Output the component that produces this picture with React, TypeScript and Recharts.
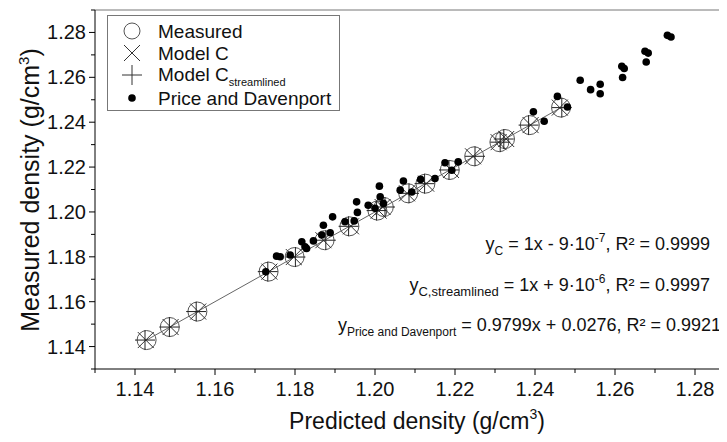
import React from "react"
import {
  ScatterChart,
  Scatter,
  XAxis,
  YAxis,
  ReferenceLine,
} from "recharts"

// measured densities (circles sit on y = x)
const measured = [
  1.1429, 1.1487, 1.1556, 1.1734, 1.1799, 1.1874, 1.1936, 1.2006, 1.2022, 1.2083,
  1.2126, 1.2187, 1.2248, 1.2311, 1.2325, 1.2387, 1.2465,
]
// predictions for the same compounds
const modelC = [
  1.1427, 1.1489, 1.1558, 1.1736, 1.1797, 1.1871, 1.194, 1.2009, 1.2019, 1.208,
  1.2128, 1.219, 1.2245, 1.2309, 1.2328, 1.2389, 1.2462,
]
const modelCStreamlined = [
  1.1425, 1.1486, 1.1553, 1.1732, 1.1801, 1.1877, 1.1934, 1.2004, 1.2025, 1.2085,
  1.2124, 1.2185, 1.225, 1.2313, 1.2322, 1.2384, 1.2467,
]

// Price and Davenport data set
const pdPredicted = [
  1.1727, 1.1754, 1.1763, 1.1788, 1.1817, 1.1825, 1.1829, 1.1846, 1.1867, 1.1871,
  1.1888, 1.1894, 1.1925, 1.1948, 1.1954, 1.1956, 1.1983, 1.2, 1.2011, 1.2013,
  1.2021, 1.2063, 1.2071, 1.2092, 1.2114, 1.215, 1.2175, 1.2192, 1.2208, 1.2396,
  1.2423, 1.2456, 1.2481, 1.2513, 1.2539, 1.2563, 1.2563, 1.2617, 1.2619, 1.2623,
  1.2675, 1.2678, 1.2683, 1.2731, 1.274,
]
const pdMeasured = [
  1.1733, 1.1803, 1.18, 1.1808, 1.1867, 1.1845, 1.1837, 1.1871, 1.1897, 1.1941,
  1.1907, 1.1978, 1.1956, 1.196, 1.2045, 1.1998, 1.203, 1.2016, 1.2115, 1.2067,
  1.2038, 1.2097, 1.2138, 1.2089, 1.2145, 1.2149, 1.2219, 1.2186, 1.2223, 1.2446,
  1.2404, 1.2515, 1.2468, 1.2587, 1.2545, 1.2569, 1.2527, 1.2649, 1.2599, 1.2639,
  1.2716, 1.2668, 1.2708, 1.2787, 1.278,
]

const axisTicks = [
  1.13, 1.14, 1.15, 1.16, 1.17, 1.18, 1.19, 1.2, 1.21, 1.22, 1.23, 1.24, 1.25, 1.26,
  1.27, 1.28, 1.29,
]

const measuredData = measured.map((m) => ({ x: m, y: m }))
const modelCData = modelC.map((p, i) => ({ x: p, y: measured[i] }))
const modelCSData = modelCStreamlined.map((p, i) => ({ x: p, y: measured[i] }))
const pdData = pdPredicted.map((p, i) => ({ x: p, y: pdMeasured[i] }))

const FONT = "'Liberation Sans', Arial, sans-serif"
const PLOT_LEFT = 95
const PLOT_BOTTOM = 369

const isMajor = (v: number) => Math.round(v * 100) % 2 === 0

const XTick = (props: any) => {
  const { x, payload } = props
  const major = isMajor(payload.value)
  return (
    <g>
      <line x1={x} x2={x} y1={PLOT_BOTTOM} y2={PLOT_BOTTOM + (major ? 6 : 4)} stroke="#000" />
      {major && (
        <text x={x} y={PLOT_BOTTOM + 27} textAnchor="middle" fontSize={20} fontFamily={FONT} fill="#111">
          {payload.value.toFixed(2)}
        </text>
      )}
    </g>
  )
}

const YTick = (props: any) => {
  const { y, payload } = props
  const major = isMajor(payload.value)
  return (
    <g>
      <line x1={PLOT_LEFT} x2={PLOT_LEFT - (major ? 6 : 4)} y1={y} y2={y} stroke="#000" />
      {major && (
        <text x={PLOT_LEFT - 9} y={y + 7} textAnchor="end" fontSize={20} fontFamily={FONT} fill="#111">
          {payload.value.toFixed(2)}
        </text>
      )}
    </g>
  )
}

const CircleShape = (props: any) => (
  <circle cx={props.cx} cy={props.cy} r={9.5} fill="none" stroke="#555" strokeWidth={1} />
)
const CrossShape = (props: any) => {
  const { cx, cy } = props
  const d = 8
  return (
    <g stroke="#333" strokeWidth={1}>
      <line x1={cx - d} y1={cy - d} x2={cx + d} y2={cy + d} />
      <line x1={cx - d} y1={cy + d} x2={cx + d} y2={cy - d} />
    </g>
  )
}
const PlusShape = (props: any) => {
  const { cx, cy } = props
  const d = 10
  return (
    <g stroke="#222" strokeWidth={1}>
      <line x1={cx - d} y1={cy} x2={cx + d} y2={cy} />
      <line x1={cx} y1={cy - d} x2={cx} y2={cy + d} />
    </g>
  )
}
const DotShape = (props: any) => <circle cx={props.cx} cy={props.cy} r={3.8} fill="#000" />

function Overlay() {
  const t = { fontFamily: FONT, fill: "#111" }
  return (
    <svg
      width={727}
      height={442}
      style={{ position: "absolute", left: 0, top: 0, pointerEvents: "none" }}
    >
      {/* axis titles */}
      <text x={417} y={429} textAnchor="middle" fontSize={23} {...t}>
        Predicted density (g/cm<tspan fontSize={14} dy={-10}>3</tspan>
        <tspan dy={10}>)</tspan>
      </text>
      <text
        x={0}
        y={0}
        transform="translate(39,190) rotate(-90)"
        textAnchor="middle"
        fontSize={25}
        {...t}
      >
        Measured density (g/cm<tspan fontSize={15} dy={-10}>3</tspan>
        <tspan dy={10}>)</tspan>
      </text>

      {/* legend */}
      <rect x={107.5} y={15.5} width={232} height={95} fill="#fff" stroke="#777" />
      <circle cx={132} cy={31} r={8} fill="none" stroke="#555" />
      <g stroke="#333">
        <line x1={124} y1={45} x2={140} y2={61} />
        <line x1={124} y1={61} x2={140} y2={45} />
        <line x1={122} y1={75} x2={142} y2={75} />
        <line x1={132} y1={65} x2={132} y2={85} />
      </g>
      <circle cx={132} cy={98} r={3.8} fill="#000" />
      <text x={158} y={38} fontSize={19} {...t}>Measured</text>
      <text x={158} y={60} fontSize={19} {...t}>Model C</text>
      <text x={158} y={81} fontSize={19} {...t}>
        Model C<tspan fontSize={11} dy={5}>streamlined</tspan>
      </text>
      <text x={158} y={105} fontSize={19} {...t}>Price and Davenport</text>

      {/* fit equations */}
      <text x={710} y={250} textAnchor="end" fontSize={18} {...t}>
        y<tspan fontSize={12} dy={5}>C</tspan>
        <tspan dy={-5}> = 1x - 9·10</tspan>
        <tspan fontSize={12} dy={-8}>-7</tspan>
        <tspan dy={8}>, R² = 0.9999</tspan>
      </text>
      <text x={710} y={291} textAnchor="end" fontSize={18} {...t}>
        y<tspan fontSize={13} dy={5}>C,streamlined</tspan>
        <tspan dy={-5}> = 1x + 9·10</tspan>
        <tspan fontSize={12} dy={-8}>-6</tspan>
        <tspan dy={8}>, R² = 0.9997</tspan>
      </text>
      <text x={721} y={331} textAnchor="end" fontSize={18} {...t}>
        y<tspan fontSize={12} dy={5}>Price and Davenport</tspan>
        <tspan dy={-5}> = 0.9799x + 0.0276, R² = 0.9921</tspan>
      </text>
    </svg>
  )
}

export default function App() {
  return (
    <div
      style={{
        margin: -8,
        width: 727,
        height: 442,
        overflow: "hidden",
        position: "relative",
        background: "#fff",
      }}
    >
      <ScatterChart width={745} height={442} margin={{ top: 10, right: 10, bottom: 0, left: 0 }}>
        <XAxis
          type="number"
          dataKey="x"
          domain={[1.13, 1.29]}
          ticks={axisTicks}
          interval={0}
          allowDataOverflow
          height={73}
          axisLine={{ stroke: "#000" }}
          tickLine={false}
          tick={<XTick />}
        />
        <YAxis
          type="number"
          dataKey="y"
          domain={[1.13, 1.29]}
          ticks={axisTicks}
          interval={0}
          allowDataOverflow
          width={95}
          axisLine={{ stroke: "#000" }}
          tickLine={false}
          tick={<YTick />}
        />
        <ReferenceLine y={1.29} stroke="#777" />
        <ReferenceLine x={1.29} stroke="#777" />
        <Scatter
          name="Measured"
          data={measuredData}
          line={{ stroke: "#666", strokeWidth: 1 }}
          shape={<CircleShape />}
          isAnimationActive={false}
        />
        <Scatter name="Model C" data={modelCData} shape={<CrossShape />} isAnimationActive={false} />
        <Scatter
          name="Model C streamlined"
          data={modelCSData}
          shape={<PlusShape />}
          isAnimationActive={false}
        />
        <Scatter name="Price and Davenport" data={pdData} shape={<DotShape />} isAnimationActive={false} />
      </ScatterChart>
      <Overlay />
    </div>
  )
}
